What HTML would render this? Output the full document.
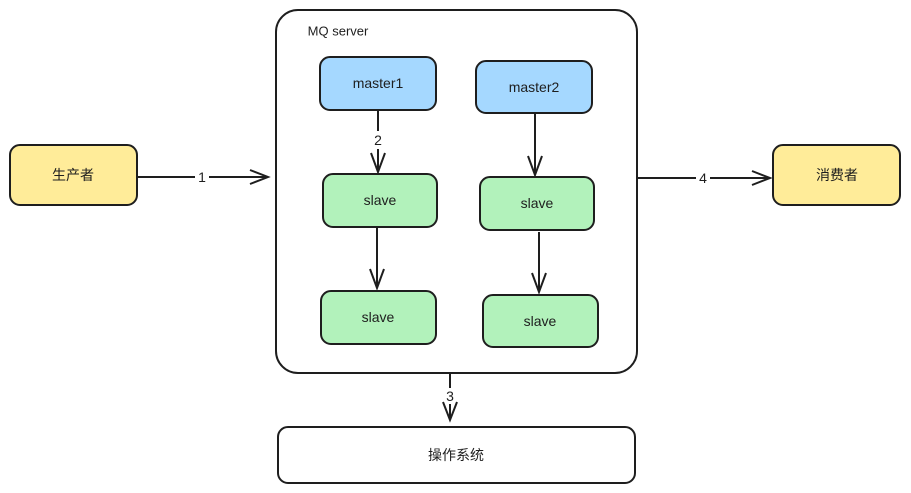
<!DOCTYPE html>
<html><head><meta charset="utf-8"><style>
html,body{margin:0;padding:0;background:#fff;}
svg{display:block;}
text{font-family:"Liberation Sans","Noto Sans CJK SC",sans-serif;font-size:14px;fill:#1e1e1e;text-anchor:middle;dominant-baseline:central;}
</style></head><body>
<svg width="911" height="493" viewBox="0 0 911 493" xmlns="http://www.w3.org/2000/svg">
<g stroke="#1e1e1e" stroke-width="2" fill="none">
<rect x="276" y="10" width="361" height="363" rx="22" fill="#fff"/>
<rect x="10" y="145" width="127" height="60" rx="10" fill="#ffec99"/>
<rect x="773" y="145" width="127" height="60" rx="10" fill="#ffec99"/>
<rect x="320" y="57" width="116" height="53" rx="10" fill="#a5d8ff"/>
<rect x="476" y="61" width="116" height="52" rx="10" fill="#a5d8ff"/>
<rect x="323" y="174" width="114" height="53" rx="10" fill="#b2f2bb"/>
<rect x="480" y="177" width="114" height="53" rx="10" fill="#b2f2bb"/>
<rect x="321" y="291" width="115" height="53" rx="10" fill="#b2f2bb"/>
<rect x="483" y="295" width="115" height="52" rx="10" fill="#b2f2bb"/>
<rect x="278" y="427" width="357" height="56" rx="10" fill="#fff"/>
<path d="M137 177 L268 177 M250 170 L268 177 L250 184"/>
<path d="M637 178 L770 178 M752 171 L770 178 L752 185"/>
<path d="M378 110 L378 172 M371 153 L378 172 L385 153"/>
<path d="M535 113 L535 175 M528 156 L535 175 L542 156"/>
<path d="M377 228 L377 288 M370 269 L377 288 L384 269"/>
<path d="M539 232 L539 292 M532 273 L539 292 L546 273"/>
</g>
<rect x="195" y="168" width="14" height="18" fill="#fff"/>
<rect x="696" y="169" width="14" height="18" fill="#fff"/>
<rect x="371" y="131" width="14" height="18" fill="#fff"/>
<g stroke="#1e1e1e" stroke-width="2" fill="none">
<path d="M450 373 L450 388 M450 404 L450 420 M443 402 L450 420 L457 402"/>
</g>
<text x="202" y="177">1</text>
<text x="703" y="178">4</text>
<text x="378" y="140">2</text>
<text x="450" y="396">3</text>
<text x="338" y="31" style="font-size:13px">MQ server</text>
<text x="73" y="175">生产者</text>
<text x="837" y="175">消费者</text>
<text x="378" y="83">master1</text>
<text x="534" y="87">master2</text>
<text x="380" y="200">slave</text>
<text x="537" y="203">slave</text>
<text x="378" y="317">slave</text>
<text x="540" y="321">slave</text>
<text x="456" y="455">操作系统</text>
</svg>
</body></html>
